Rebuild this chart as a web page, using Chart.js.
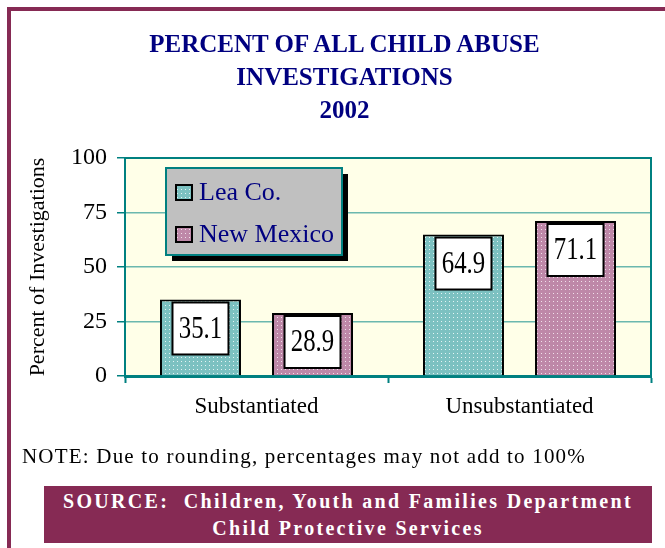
<!DOCTYPE html>
<html>
<head>
<meta charset="utf-8">
<script src="https://cdn.jsdelivr.net/npm/chart.js@4.4.0/dist/chart.umd.min.js"></script>
<style>
body{margin:0;background:#fff;}
#wrap{position:relative;width:665px;height:548px;overflow:hidden;background:#fff;font-family:"Liberation Serif","Times New Roman",serif;}
#chart{position:absolute;left:0;top:0;}
#topbar{position:absolute;left:7px;top:7px;width:658px;height:4px;background:#862A54;}
#leftbar{position:absolute;left:7px;top:7px;width:4px;height:541px;background:#862A54;}
#title{position:absolute;left:12px;width:665px;top:27px;text-align:center;color:#000080;font-weight:bold;font-size:25px;line-height:33px;}
#note{position:absolute;left:22px;top:446px;font-size:21px;line-height:20px;color:#000;letter-spacing:1.2px;}
#source{position:absolute;left:44px;top:486px;width:608px;height:57px;background:#862A54;color:#fff;text-align:center;font-weight:bold;font-size:20px;line-height:27px;letter-spacing:2.3px;padding-top:2px;box-sizing:border-box;}
</style>
</head>
<body>
<div id="wrap">
<canvas id="chart" width="665" height="548"></canvas>
<div id="topbar"></div>
<div id="leftbar"></div>
<div id="title">PERCENT OF ALL CHILD ABUSE<br>INVESTIGATIONS<br>2002</div>
<div id="note">NOTE: Due to rounding, percentages may not add to 100%</div>
<div id="source">SOURCE:&nbsp; Children, Youth and Families Department<br>Child Protective Services</div>
</div>
<script>
/* data */
var categories = ['Substantiated', 'Unsubstantiated'];
var seriesNames = ['Lea Co.', 'New Mexico'];
var leaValues = [35.1, 64.9];
var nmValues = [28.9, 71.1];
var yTicks = [0, 25, 50, 75, 100];

var serif = "'Liberation Serif', 'Times New Roman', serif";

/* dotted fill like the original */
function dots(base, dot){
  var c = document.createElement('canvas');
  c.width = 4; c.height = 4;
  var g = c.getContext('2d');
  g.fillStyle = base;
  g.fillRect(0, 0, 4, 4);
  g.fillStyle = dot;
  g.fillRect(1, 1, 1, 1);
  return document.getElementById('chart').getContext('2d').createPattern(c, 'repeat');
}

var tealFill = dots('#7CC1C1', '#E4F4F4');
var mauveFill = dots('#BE88A8', '#F0E0EA');

var plotBg = {
  id: 'plotBg',
  beforeDraw: function(chart){
    var a = chart.chartArea, ctx = chart.ctx;
    ctx.save();
    ctx.fillStyle = '#FFFFE8';
    ctx.fillRect(a.left, a.top, a.right - a.left, a.bottom - a.top);
    ctx.restore();
  },
  beforeDatasetsDraw: function(chart){
    var a = chart.chartArea, ctx = chart.ctx;
    ctx.save();
    ctx.strokeStyle = '#008080';
    ctx.lineWidth = 2;
    ctx.beginPath();
    ctx.moveTo(a.right, a.top - 1);
    ctx.lineTo(a.right, a.bottom);
    ctx.moveTo(a.left, a.top);
    ctx.lineTo(a.right, a.top);
    ctx.stroke();
    ctx.restore();
  }
};

var valueBoxes = {
  id: 'valueBoxes',
  afterDatasetsDraw: function(chart){
    var ctx = chart.ctx;
    chart.data.datasets.forEach(function(ds, i){
      chart.getDatasetMeta(i).data.forEach(function(bar, j){
        var w = 56, h = 52;
        var x = bar.x - w / 2, y = bar.y + 3;
        ctx.save();
        ctx.fillStyle = '#fff';
        ctx.fillRect(x, y, w, h);
        ctx.strokeStyle = '#000';
        ctx.lineWidth = 2;
        ctx.strokeRect(x, y, w, h);
        ctx.translate(bar.x, y + h / 2 + 1);
        ctx.scale(0.8, 1);
        ctx.fillStyle = '#000';
        ctx.font = '31px ' + serif;
        ctx.textAlign = 'center';
        ctx.textBaseline = 'middle';
        ctx.fillText(ds.data[j].toFixed(1), 0, 0);
        ctx.restore();
      });
    });
  }
};

var legendBox = {
  id: 'legendBox',
  afterDraw: function(chart){
    var a = chart.chartArea, ctx = chart.ctx;
    var x = a.left + 41, y = a.top + 10, w = 176, h = 87;
    ctx.save();
    ctx.fillStyle = '#000';
    ctx.fillRect(x + 6, y + 6, w, h);
    ctx.fillStyle = '#C0C0C0';
    ctx.fillRect(x, y, w, h);
    ctx.strokeStyle = '#008080';
    ctx.lineWidth = 2;
    ctx.strokeRect(x, y, w, h);
    chart.data.datasets.forEach(function(ds, i){
      var sy = y + 17 + i * 42;
      ctx.fillStyle = ds.backgroundColor;
      ctx.fillRect(x + 10, sy, 16, 15);
      ctx.strokeStyle = '#000';
      ctx.lineWidth = 2;
      ctx.strokeRect(x + 10, sy, 16, 15);
      ctx.fillStyle = '#000080';
      ctx.font = '26px ' + serif;
      ctx.textBaseline = 'alphabetic';
      ctx.fillText(ds.label, x + 33, sy + 15);
    });
    ctx.restore();
  }
};

new Chart(document.getElementById('chart'), {
  type: 'bar',
  data: {
    labels: categories,
    datasets: [{
      label: seriesNames[0],
      data: leaValues,
      backgroundColor: tealFill,
      borderColor: '#000',
      borderWidth: 2
    }, {
      label: seriesNames[1],
      data: nmValues,
      backgroundColor: mauveFill,
      borderColor: '#000',
      borderWidth: 2
    }]
  },
  options: {
    responsive: false,
    animation: false,
    categoryPercentage: 0.852,
    barPercentage: 0.723,
    layout: { padding: { left: 0, top: 158, right: 14, bottom: 0 } },
    plugins: {
      legend: { display: false },
      tooltip: { enabled: false }
    },
    scales: {
      x: {
        grid: { drawOnChartArea: false, drawTicks: true, tickLength: 7, tickColor: '#008080', tickWidth: 2, offset: true },
        border: { color: '#008080', width: 3 },
        ticks: { color: '#000', font: { family: serif, size: 23 }, padding: 10 },
        afterFit: function(s){ s.height = 172; }
      },
      y: {
        min: 0,
        max: 100,
        afterBuildTicks: function(s){ s.ticks = yTicks.map(function(v){ return { value: v }; }); },
        grid: { color: '#6BB8AE', lineWidth: 1.5, tickColor: '#008080', tickLength: 8 },
        border: { color: '#008080', width: 2 },
        ticks: { color: '#000', font: { family: serif, size: 24 }, padding: 10 },
        title: { display: true, text: 'Percent of Investigations', color: '#000', font: { family: serif, size: 22 }, padding: { top: 25, bottom: 0 } },
        afterFit: function(s){ s.width = 125; }
      }
    }
  },
  plugins: [plotBg, valueBoxes, legendBox]
});
</script>
</body>
</html>
